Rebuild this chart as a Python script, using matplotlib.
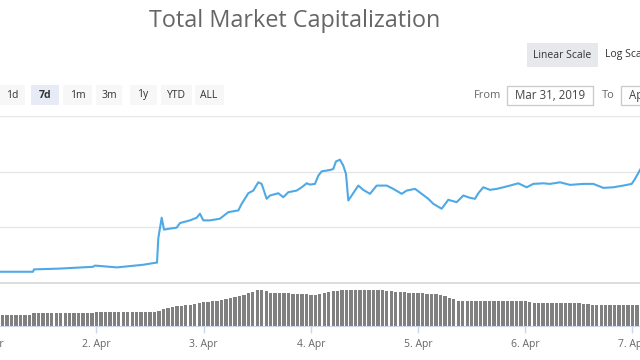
import numpy as np
import matplotlib
matplotlib.use("Agg")
import matplotlib.pyplot as plt
import matplotlib.dates as mdates
from matplotlib.patches import Rectangle

plt.rcParams['font.family'] = ['Open Sans', 'DejaVu Sans']

# ---------------- data ----------------
title = "Total Market Capitalization"
range_buttons = ["1d", "7d", "1m", "3m", "1y", "YTD", "ALL"]
active_range = "7d"
scale_buttons = ["Linear Scale", "Log Scale"]
from_date = "Mar 31, 2019"
to_date = "Apr 7, 2019"
start_date = np.datetime64('2019-04-01T00:00')

# hours after 1 Apr 2019 00:00 and total market cap (billion USD)
price_hours = [-3, 2.40, 9.78, 10.01, 15.83, 23.22, 23.66, 28.59, 34.41, 37.10,
               37.55, 37.84, 38.60, 39.11, 40.46, 41.96, 42.69, 44.93, 46.43, 47.17,
               47.91, 49.41, 51.65, 53.51, 55.75, 56.51, 57.99, 59.10, 60.22, 60.98,
               62.10, 62.84, 64.70, 65.82, 66.94, 68.82, 69.94, 71.06, 71.80, 72.92,
               73.66, 74.42, 76.28, 77.01, 77.62, 78.52, 79.26, 79.86, 80.38, 81.13,
               82.61, 83.73, 85.23, 86.73, 88.97, 90.45, 92.33, 93.45, 95.31, 96.81,
               98.28, 99.40, 101.28, 102.76, 104.64, 106.12, 107.62, 108.74, 109.48, 110.60,
               112.10, 113.60, 115.08, 116.58, 118.43, 120.31, 121.79, 124.03, 125.53, 127.77,
               130.01, 132.99, 135.22, 137.46, 139.70, 141.94, 143.82, 144.56, 145.68, 146.5]
price_values = [144.0, 144.04, 144.04, 144.89, 145.18, 145.82, 146.25, 145.61, 146.54, 147.25,
                147.32, 156.07, 163.46, 159.18, 159.54, 159.89, 161.54, 162.5, 163.46, 164.89,
                162.5, 162.5, 163.11, 165.46, 166.07, 168.46, 172.25, 173.21, 176.18, 175.61,
                170.25, 171.43, 172.25, 170.82, 172.61, 173.21, 174.39, 175.82, 175.36, 175.61,
                178.57, 180.11, 180.61, 180.96, 183.68, 184.29, 182.14, 179.18, 169.64, 171.43,
                175.0, 173.46, 172.04, 175.0, 175.0, 173.82, 172.04, 173.21, 173.82, 172.04,
                170.25, 168.46, 166.68, 169.89, 169.04, 171.43, 170.61, 170.25, 172.25, 174.39,
                173.46, 173.82, 174.39, 175.0, 175.82, 174.39, 175.61, 175.82, 175.61, 176.18,
                175.25, 175.61, 175.61, 174.18, 174.39, 175.0, 175.61, 177.39, 180.61, 183.0]

# hourly volume bars (billion USD), first bar at hour -3
volume_first_hour = -3
volume_values = ([23] * 13 + [26] * 14 + [28] * 14 +
                 [31, 34, 37, 39, 40, 41, 42, 43, 44, 46, 48, 49, 50, 51, 53, 54, 56, 58, 60, 63, 66, 69, 72] +
                 [73, 71, 67, 66, 66, 66, 66, 65, 65, 64, 64, 63, 62, 64, 66, 68, 70, 71, 72, 72] +
                 [73, 73, 73, 73, 73, 73, 73, 72, 71, 70, 69, 68, 68, 67, 67, 66, 66, 65, 65, 64, 62, 60, 57, 55, 51] +
                 [51, 51, 50, 51, 51, 51, 51, 51, 51, 51, 51, 51, 51, 50, 50] +
                 [48] + [47, 47, 47, 47, 47, 47, 47, 46, 46, 46, 46, 45] + [44] + [42] * 11)

# ---------------- figure ----------------
W, H = 640, 360
fig = plt.figure(figsize=(6.4, 3.6), dpi=100)
fig.patch.set_facecolor('white')

def fy(py):
    return (H - py) / H

# the chart is cropped: its plot area extends a little beyond both figure edges
EXT = 24  # pixels of plot area hidden on each side
HOURS_PER_PX = 24 / 107.2
ax_left = -EXT / W
ax_width = (W + 2 * EXT) / W

base = mdates.date2num(start_date.astype('datetime64[s]').astype(object))
px = base + np.array(price_hours) / 24.0
vh = volume_first_hour + np.arange(len(volume_values))
vx = base + vh / 24.0
xlim = (base + (2.40 - EXT * HOURS_PER_PX) / 24.0,
        base + (145.68 + EXT * HOURS_PER_PX) / 24.0)

line_col = '#4ea9e6'
grid_col = '#e6e6e6'
axis_col = '#ccd6eb'

# price pane
axp = fig.add_axes([ax_left, fy(283), ax_width, fy(116) - fy(283)])
axp.plot(px, price_values, color=line_col, lw=1.5, solid_joinstyle='round')
axp.set_xlim(*xlim)
axp.set_ylim(140, 200)
axp.set_yticks([160, 180, 200])
axp.yaxis.grid(True, color=grid_col, lw=1)
axp.tick_params(left=False, labelleft=False, bottom=False, labelbottom=False)
for s in ['left', 'right', 'top']:
    axp.spines[s].set_visible(False)
axp.spines['bottom'].set_color('#d6d6d6')
axp.spines['bottom'].set_linewidth(1.2)
axp.set_facecolor('none')

# volume pane
axv = fig.add_axes([ax_left, fy(326), ax_width, fy(283) - fy(326)])
axv.bar(vx, volume_values, width=0.75 / 24.0, color='#808080', edgecolor='none', align='center')
axv.set_xlim(*xlim)
axv.set_ylim(0, 86)
axv.tick_params(left=False, labelleft=False)
for s in ['left', 'right', 'top']:
    axv.spines[s].set_visible(False)
axv.spines['bottom'].set_color(axis_col)
axv.set_facecolor('none')
axv.xaxis.set_major_locator(mdates.DayLocator())
axv.xaxis.set_major_formatter(mdates.DateFormatter('%-d. %b'))
axv.tick_params(axis='x', colors=axis_col, length=5, width=1, labelcolor='#666666',
                labelsize=7.5, pad=4)

# overlay for header in pixel coordinates
ov = fig.add_axes([0, 0, 1, 1], zorder=-1)
ov.set_xlim(0, W)
ov.set_ylim(H, 0)
ov.axis('off')

ov.text(295, 21, title, ha='center', va='center', fontsize=16.8, color='#666666')

# scale buttons
ov.add_patch(Rectangle((527, 43), 71, 24, facecolor='#e6e8eb', edgecolor='none'))
ov.text(562, 55, scale_buttons[0], ha='center', va='center', fontsize=7.5, color='#333333')
ov.text(605, 55, scale_buttons[1], ha='left', va='center', fontsize=7.5, color='#333333')

# range buttons
btn_left = [0, 31, 63, 96, 130, 161, 195]
btn_right = [25, 59, 92, 122, 157, 192, 224]
btn_cx = [12, 45, 78, 109, 143, 176, 209]
for lab, l, r, cx in zip(range_buttons, btn_left, btn_right, btn_cx):
    active = lab == active_range
    ov.add_patch(Rectangle((l, 85), r - l, 20,
                           facecolor='#e6ebf5' if active else '#f7f7f7', edgecolor='none'))
    ov.text(cx, 95, lab, ha='center', va='center', fontsize=7.5, color='#333333',
            fontweight='bold' if active else 'normal')

# date inputs
ov.text(488, 95, "From", ha='center', va='center', fontsize=8, color='#666666')
ov.add_patch(Rectangle((507, 86), 86, 19, facecolor='white', edgecolor='#cccccc', lw=1))
ov.text(550, 95.5, from_date, ha='center', va='center', fontsize=8.3, color='#444444')
ov.text(608, 95, "To", ha='center', va='center', fontsize=8, color='#666666')
ov.add_patch(Rectangle((621, 86), 86, 19, facecolor='white', edgecolor='#cccccc', lw=1,
                       clip_on=False))
ov.text(629, 95.5, to_date, ha='left', va='center', fontsize=8.3, color='#444444')

fig.savefig('out.png', dpi=100)
